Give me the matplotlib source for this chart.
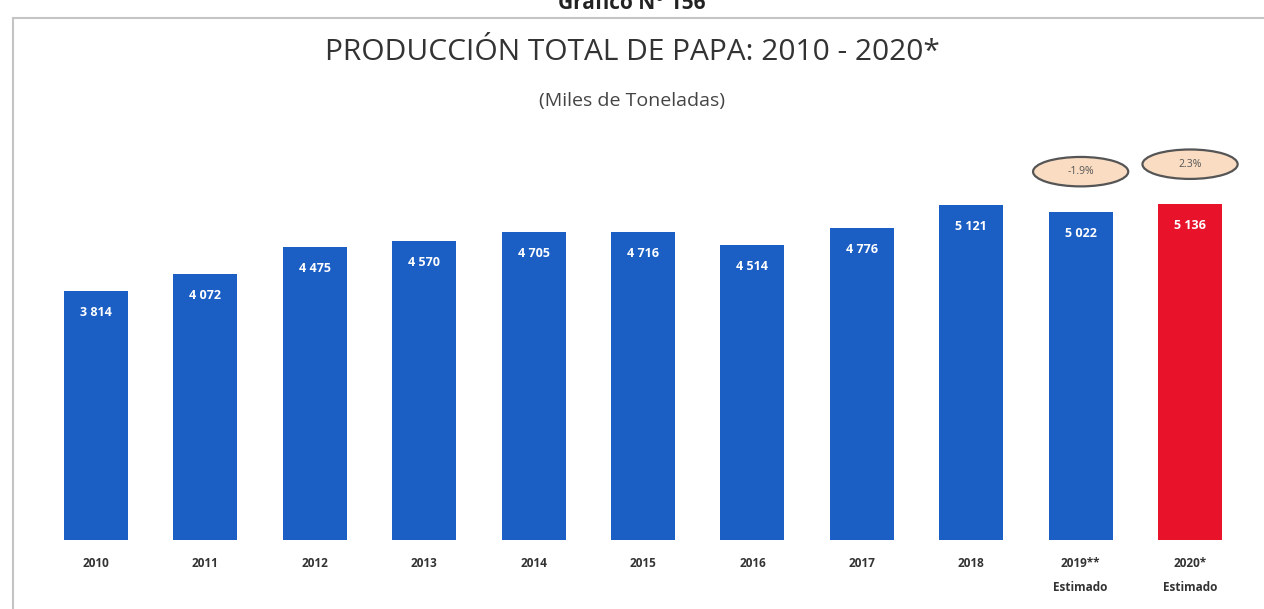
import matplotlib
matplotlib.use("Agg")
import matplotlib.pyplot as plt
from matplotlib.patches import Ellipse, Rectangle

years = ["2010", "2011", "2012", "2013", "2014", "2015", "2016", "2017", "2018",
         "2019**\nEstimado", "2020*\nEstimado"]
values = [3814, 4072, 4475, 4570, 4705, 4716, 4514, 4776, 5121, 5022, 5136]
value_labels = ["3 814", "4 072", "4 475", "4 570", "4 705", "4 716", "4 514",
                "4 776", "5 121", "5 022", "5 136"]
changes = {9: "-1.9%", 10: "2.3%"}

blue = "#1b5ec4"
red = "#e8132b"
colors = [blue] * 10 + [red]

plt.rcParams['font.family'] = ['Open Sans', 'DejaVu Sans']

fig = plt.figure(figsize=(12.64, 6.09), dpi=100)
fig.patch.set_facecolor("white")

# frame
fig.add_artist(Rectangle((13 / 1264, -0.01), 1.2, (609 - 18) / 609 + 0.01,
                         transform=fig.transFigure, fill=False,
                         edgecolor="#c4c4c4", linewidth=1.5))

ax = fig.add_axes([0, 69 / 609, 1, 420 / 609])
x = list(range(len(values)))
ax.bar(x, values, width=0.585, color=colors, edgecolor="none")
ax.set_xlim(-0.8775, 10.676)
ax.set_ylim(0, 6422)
ax.axis("off")

for i, (v, lab) in enumerate(zip(values, value_labels)):
    ax.text(i, v - 330, lab, ha="center", va="center", color="white",
            fontsize=9, fontweight="bold")

for i, lab in enumerate(years):
    ax.text(i, -260, lab, ha="center", va="top", color="#333333",
            fontsize=8.5, fontweight="bold", linespacing=2.1)

for i, txt in changes.items():
    e = Ellipse((i, values[i] + 610), 0.87, 450, facecolor="#f9dcc2",
                edgecolor="#555555", linewidth=1.6, zorder=3)
    ax.add_patch(e)
    ax.text(i, values[i] + 610, txt, ha="center", va="center",
            fontsize=7.5, color="#555555", zorder=4)

fig.text(0.5, 0.995, "Gráfico N° 156", ha="center", va="center",
         fontsize=15, fontweight="bold", color="#222222")
fig.text(0.5, 1 - 53 / 609, "PRODUCCIÓN TOTAL DE PAPA: 2010 - 2020*",
         ha="center", va="center", fontsize=21.5, color="#333333")
fig.text(0.5, 1 - 101 / 609, "(Miles de Toneladas)", ha="center",
         va="center", fontsize=14, color="#444444")

fig.savefig("out.png", dpi=100)
